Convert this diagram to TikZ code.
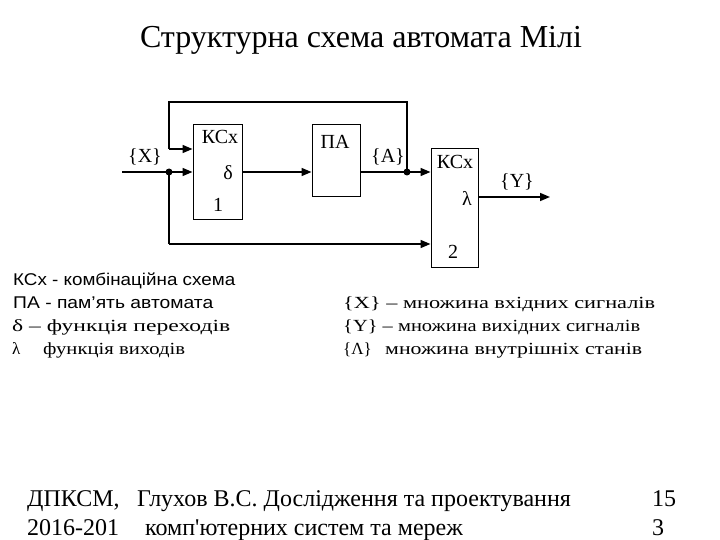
\documentclass[tikz,border=0pt]{standalone}
\usepackage{graphicx}
\usepackage{fontspec}
\setmainfont{Liberation Serif}
\newfontfamily\lsans{Liberation Sans}
\usetikzlibrary{arrows.meta}
\newcommand{\fitw}[2]{\resizebox{#1}{\height}{#2}}
\newcommand{\sq}{{\addfontfeature{Ligatures=TeXOff}'}}
\tikzset{
  blk/.style={draw, line width=1pt, inner sep=0pt, fill=white},
  wire/.style={line width=1.6pt},
  arr/.style={wire, -{Triangle[length=10pt,width=8pt]}},
  dot/.style={circle, fill=black, inner sep=0pt, minimum size=7pt},
  lbl/.style={font=\fontsize{20}{24}\selectfont, inner sep=0pt},
  leg/.style={font=\fontsize{17}{20}\selectfont, inner sep=0pt, anchor=base west},
  foot/.style={font=\fontsize{24}{28}\selectfont, inner sep=0pt, anchor=base west},
}
\begin{document}
\begin{tikzpicture}[x=1pt,y=-1pt]
\useasboundingbox (0,0) rectangle (720,540);
% title
\node[inner sep=0pt, anchor=base, font=\fontsize{32}{38}\selectfont] (title) at (361,48) {Структурна схема автомата Мілі};
% blocks
\node[blk, minimum width=49pt, minimum height=95pt] (b1) at (217.5,172.5) {};
\node[blk, minimum width=48pt, minimum height=72pt] (pa) at (336,161) {};
\node[blk, minimum width=47pt, minimum height=118pt] (b2) at (454.5,208) {};
% block texts
\node[lbl] (b1t) at (220,137) {КСх};
\node[lbl] (b1d) at (228,173) {δ};
\node[lbl] (b1n) at (218,205) {1};
\node[lbl] (pat) at (335,142) {ПА};
\node[lbl] (b2t) at (455,162) {КСх};
\node[lbl] (b2l) at (467,198) {λ};
\node[lbl] (b2n) at (453,252) {2};
% signal labels
\node[lbl] (lx) at (145,157) {\{X\}};
\node[lbl] (la) at (388,157) {\{A\}};
\node[lbl] (ly) at (517,182) {\{Y\}};
% coordinates
\coordinate (in) at (122,172);
\coordinate (jX) at (169,172);
\coordinate (jA) at (407,172);
\coordinate (tr) at (407,102);
\coordinate (tl) at (169,102);
\coordinate (f1) at (169,149);
\coordinate (bl) at (169,244);
\coordinate (out) at (550,197);
% connectors
\draw[arr] (in) -- (in -| b1.west);
\draw[arr] (b1.east |- jX) -- (pa.west |- jX);
\draw[arr] (pa.east |- jX) -- (b2.west |- jX);
\draw[wire] (jA) -- (tr) -- (tl) -- (f1);
\draw[arr] (f1) -- (f1 -| b1.west);
\draw[wire] (jX) -- (bl);
\draw[arr] (bl) -- (bl -| b2.west);
\draw[arr] (out -| b2.east) -- (out);
\node[dot] (dX) at (jX) {};
\node[dot] (dA) at (jA) {};
% legend
\node[leg, font=\lsans\fontsize{17}{20}\selectfont] (g1) at (13,285) {\fitw{222pt}{КСх - комбінаційна схема}};
\node[leg, font=\lsans\fontsize{17}{20}\selectfont] (g2) at (13,308) {\fitw{200pt}{ПА - пам’ять автомата}};
\node[leg] (g3) at (12,331) {\fitw{218pt}{δ – функція переходів}};
\node[leg] (g4a) at (12,354) {λ};
\node[leg] (g4b) at (43,354) {\fitw{142pt}{функція виходів}};
\node[leg] (r1) at (343,308) {\fitw{312pt}{\{X\} – множина вхідних сигналів}};
\node[leg] (r2) at (343,331) {\fitw{297pt}{\{Y\} – множина вихідних сигналів}};
\node[leg] (r3a) at (343,354) {\{Λ\}};
\node[leg] (r3b) at (385,354) {\fitw{257pt}{множина внутрішніх станів}};
% footer
\node[foot] (f1a) at (27,506) {ДПКСМ,};
\node[foot] (f1b) at (27,535) {2016-201};
\node[foot] (f2a) at (137,506) {Глухов В.С. Дослідження та проектування};
\node[foot] (f2b) at (145,535) {комп\sq ютерних систем та мереж};
\node[foot] (f3a) at (652,506) {15};
\node[foot] (f3b) at (652,535) {3};
\end{tikzpicture}
\end{document}
